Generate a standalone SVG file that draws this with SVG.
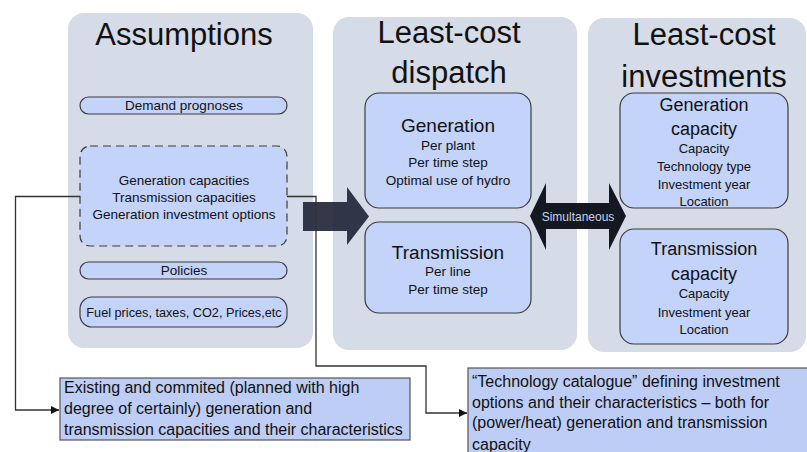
<svg xmlns="http://www.w3.org/2000/svg" width="807" height="452" viewBox="0 0 807 452">
<defs>
<style>
.panel{fill:#d6dbe8;stroke:none}
.box{fill:#c3d3fa;stroke:#3c3c3c;stroke-width:1.2}
.note{fill:#bdcdf6;stroke:#555;stroke-width:1.2}
.t{font-family:"Liberation Sans",Arial,sans-serif;fill:#111;text-anchor:middle}
.title{font-size:31px}
.hd{font-size:19px}
.sm{font-size:13.5px}
.nt{font-family:"Liberation Sans",Arial,sans-serif;fill:#111;font-size:16px}
.conn{fill:none;stroke:#333;stroke-width:1.3}
</style>
<marker id="ah" viewBox="0 0 10 10" refX="10" refY="5" markerWidth="9" markerHeight="8" markerUnits="userSpaceOnUse" orient="auto">
<path d="M0,0 L10,5 L0,10 Z" fill="#111"/>
</marker>
</defs>
<rect width="807" height="452" fill="#fff"/>

<g id="assumptions">
<rect class="panel" x="68" y="13" width="245" height="335" rx="16"/>
<text class="t title" x="184" y="45">Assumptions</text>
</g>
<g id="demand">
<rect class="box" x="80" y="97" width="207" height="17" rx="8.5"/>
<text class="t sm" x="184" y="110">Demand prognoses</text>
</g>
<g id="capacities">
<rect class="box" x="80" y="146" width="207" height="100" rx="10" stroke-dasharray="8,5" stroke-width="1.6"/>
<text class="t sm" x="184" y="184.5">Generation capacities</text>
<text class="t sm" x="184" y="201.5">Transmission capacities</text>
<text class="t sm" x="184" y="218.5">Generation investment options</text>
</g>
<g id="policies">
<rect class="box" x="80" y="262" width="207" height="17" rx="8.5"/>
<text class="t sm" x="184" y="275">Policies</text>
</g>
<g id="fuel">
<rect class="box" x="80" y="297" width="207" height="30" rx="12"/>
<text class="t" x="184" y="316.5" font-size="12.7">Fuel prices, taxes, CO2, Prices,etc</text>
</g>

<g id="dispatch">
<rect class="panel" x="333" y="17" width="244" height="333" rx="16"/>
<text class="t title" x="449" y="43">Least-cost</text>
<text class="t title" x="449" y="83">dispatch</text>
</g>
<g id="dispatch-generation">
<rect class="box" x="365" y="93" width="166" height="115" rx="14"/>
<text class="t hd" x="448" y="132">Generation</text>
<text class="t sm" x="448" y="150">Per plant</text>
<text class="t sm" x="448" y="167">Per time step</text>
<text class="t sm" x="448" y="185">Optimal use of hydro</text>
</g>
<g id="dispatch-transmission">
<rect class="box" x="365" y="222" width="166" height="91" rx="14"/>
<text class="t hd" x="448" y="259">Transmission</text>
<text class="t sm" x="448" y="276">Per line</text>
<text class="t sm" x="448" y="294">Per time step</text>
</g>

<g id="investments">
<rect class="panel" x="588" y="18" width="218" height="334" rx="16"/>
<text class="t title" x="704" y="45">Least-cost</text>
<text class="t title" x="704" y="87">investments</text>
</g>
<g id="generation-capacity">
<rect class="box" x="620" y="93" width="168" height="115" rx="14"/>
<text class="t" x="704" y="111" font-size="18">Generation</text>
<text class="t" x="704" y="135" font-size="18">capacity</text>
<text class="t" x="704" y="153" font-size="13">Capacity</text>
<text class="t" x="704" y="171" font-size="13">Technology type</text>
<text class="t" x="704" y="189" font-size="13">Investment year</text>
<text class="t" x="704" y="206" font-size="13">Location</text>
</g>
<g id="transmission-capacity">
<rect class="box" x="620" y="229" width="168" height="115" rx="14"/>
<text class="t" x="704" y="255" font-size="18">Transmission</text>
<text class="t" x="704" y="280" font-size="18">capacity</text>
<text class="t" x="704" y="298" font-size="13">Capacity</text>
<text class="t" x="704" y="317" font-size="13">Investment year</text>
<text class="t" x="704" y="334" font-size="13">Location</text>
</g>

<g id="existing-note">
<rect class="note" x="60" y="378" width="350" height="62"/>
<text class="nt" x="64" y="393">Existing and commited (planned with high</text>
<text class="nt" x="64" y="414">degree of certainly) generation and</text>
<text class="nt" x="64" y="435">transmission capacities and their characteristics</text>
</g>
<g id="catalogue-note">
<rect class="note" x="468" y="368" width="342" height="92"/>
<text class="nt" x="472" y="387">“Technology catalogue” defining investment</text>
<text class="nt" x="472" y="408">options and their characteristics – both for</text>
<text class="nt" x="472" y="428">(power/heat) generation and transmission</text>
<text class="nt" x="472" y="450">capacity</text>
</g>

<g id="block-arrows">
<polygon points="303,202 347,202 347,187 369,216.5 347,245 347,231 303,231" fill="#1e2435" fill-opacity="0.9"/>
<g id="simultaneous">
<polygon points="530,216 546,183 546,203 609,203 609,183 626,216 609,250 609,229 546,229 546,250" fill="#141821"/>
<text class="t" x="578" y="221" font-size="12" style="fill:#c9d1e3">Simultaneous</text>
</g>
</g>

<g id="connectors">
<path class="conn" d="M80,196.5 H15.5 V410 H59" marker-end="url(#ah)"/>
<path class="conn" d="M287,196.5 H316 V366 H426 V413 H467" marker-end="url(#ah)"/>
</g>
</svg>
